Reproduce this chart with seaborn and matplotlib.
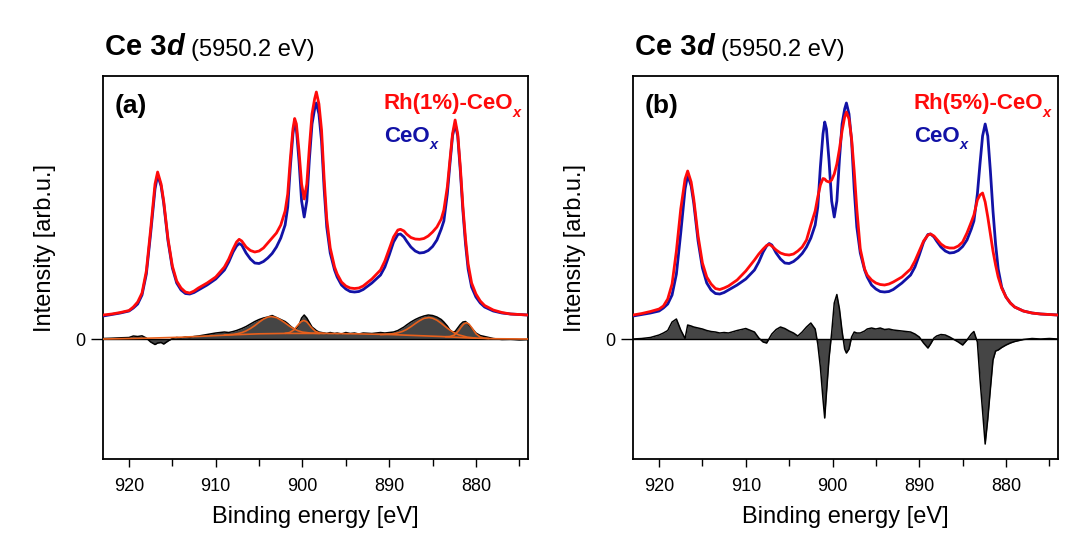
import matplotlib
matplotlib.use("Agg")
import matplotlib.pyplot as plt
import seaborn as sns

sns.set_theme(style="ticks")
plt.rcParams["font.family"] = ["Liberation Sans", "DejaVu Sans"]
plt.rcParams.update({
    "text.color": "black",
    "axes.labelcolor": "black",
    "xtick.color": "black",
    "ytick.color": "black",
    "axes.edgecolor": "black",
})

# ---------------------------------------------------------------- data
# binding energy grid [eV] shared by all spectra
energy = [
    923, 922, 921, 920, 919.5, 919, 918.5, 918, 917.5, 917,
    916.7, 916.3, 916, 915.5, 915, 914.5, 914, 913.5, 913, 912.5,
    912, 911, 910, 909, 908.5, 908, 907.6, 907.3, 907, 906.5,
    906, 905.5, 905, 904.5, 904, 903.5, 903, 902.5, 902, 901.7,
    901.4, 901.1, 900.9, 900.7, 900.4, 900.1, 899.8, 899.5, 899.2, 898.9,
    898.6, 898.4, 898.1, 897.8, 897.5, 897.2, 896.8, 896.3, 896, 895.5,
    895, 894.5, 894, 893.5, 893, 892, 891, 890.5, 890, 889.5,
    889, 888.7, 888.3, 888, 887.5, 887, 886.5, 886, 885.5, 885,
    884.5, 884, 883.7, 883.3, 883, 882.7, 882.4, 882.1, 881.8, 881.5,
    881.2, 880.9, 880.5, 880, 879.5, 879, 878, 877, 876, 875,
    874,
]

# Ce 3d intensity, bare CeOx reference
ceox = [
    23, 24.5, 26, 28, 31, 35, 44, 65, 106, 150,
    164, 153, 136, 98, 71, 56, 49, 45.5, 45, 46.5,
    49, 54, 60, 69, 77, 87, 93, 95.5, 94, 86,
    80, 76, 75.5, 77.5, 81, 85.5, 92, 101, 114, 132,
    172, 205, 217, 210, 178, 138, 122, 138, 180, 215,
    230, 236, 225, 198, 150, 112, 86, 69, 62, 54,
    50, 47.5, 47, 47.5, 49.5, 56, 64, 72, 84, 97,
    104.5, 105, 102, 98, 92, 88, 86, 86.5, 88.5, 92.5,
    99, 110, 118, 145, 175, 203, 215, 203, 168, 128,
    95, 70, 52, 42, 36, 32, 28, 26, 25, 24.5,
    24,
]

# Ce 3d intensity, Rh(1%)-CeOx
rh1 = [
    24, 25, 26.5, 28.5, 32, 37, 46, 68, 110, 155,
    167, 155, 138, 100, 73, 58, 51, 47, 46, 48,
    51, 56, 62, 72, 80, 90, 97, 99.7, 98, 92,
    88.5, 87, 88, 91, 96, 101, 106, 114, 128, 145,
    180, 210, 220.5, 215, 188, 155, 140, 155, 192, 225,
    240, 247, 235, 209, 160, 120, 91, 72, 65, 57,
    53, 51, 50.5, 51, 53, 60, 69, 78, 90, 102,
    109, 109.7, 108, 105, 101.5, 100, 99.7, 100.5, 103, 107,
    112, 120, 129, 152, 179, 205, 219, 205, 172, 132,
    100, 75, 56, 45, 38, 33.5, 29, 26.5, 25, 24.5,
    24,
]

# Ce 3d intensity, Rh(5%)-CeOx
rh5 = [
    24, 25.5, 27.5, 30, 33, 40, 55, 88, 130, 160,
    168, 157, 140, 103, 76, 62, 55, 50.5, 49.5, 51,
    53, 59, 68, 79, 85, 90, 93.5, 94.7, 93, 89,
    86, 84.5, 84, 85, 88, 92, 99, 114, 128, 142,
    154, 160.5, 160, 158, 157, 159, 165, 175, 190, 208,
    222, 227, 220, 200, 168, 130, 90, 70, 64, 59,
    56, 54.5, 54, 55, 57, 62, 70, 78, 88, 98,
    104, 105, 103, 100, 95, 92, 91, 91, 93, 97,
    106, 117, 124, 139, 144, 146, 137, 122, 105, 88,
    74, 62, 51, 42, 36, 32, 28, 26, 25, 24.5,
    24,
]

# difference spectra (Rh-doped minus CeOx)
diff_rh1 = [
    0.5, 0.8, 1.2, 1.5, 3, 2.5, 3.2, 1, -3, -5.5,
    -4, -3.5, -5, -2, 0.5, 1.5, 1, 2, 1.5, 2.5,
    3, 4.5, 6, 7, 6.5, 7.5, 8.5, 9.5, 10.5, 12.5,
    15, 17.5, 19.5, 21, 22, 23.5, 21.5, 19.5, 17.5, 15.5,
    13, 11, 10, 10.5, 14, 21, 24, 21, 16.5, 12,
    10, 8.5, 7, 6.5, 6, 5.5, 6.5, 5.5, 6, 5,
    6.5, 5.5, 6, 5, 6, 5.5, 6.5, 6, 6.5, 7,
    8.5, 10, 12, 14, 17, 19.5, 21.5, 23, 24, 23.5,
    22, 19.5, 17, 13, 9, 7, 7.5, 11, 14.5, 17,
    17.5, 15, 11, 6, 3.5, 2.5, 0.5, -0.5, -0.3, -0.8,
    -0.5,
]

diff_rh5 = [
    0, 0.5, 1.5, 4, 6, 8.5, 17, 20, 9, 0.5,
    14, 13, 12, 11, 10, 8.5, 7.5, 7, 6, 6.5,
    6, 8.5, 10.5, 7, 1, -3, -4, 0.5, 5, 9.5,
    12, 10.5, 8, 6, 3, 7, 12, 16, 10, -5,
    -28, -60, -79, -54, -19, 6, 36, 44.5, 30, 8,
    -10, -14, -10, 2, 7, 6, 6, 8, 10, 11,
    10, 11, 9.5, 10, 9, 8, 7, 5, 2, -4,
    -9, -5, 1, 3, 4.5, 4, 2, -0.5, -3, -6,
    -1, 5, 7.5, -3, -40, -72, -105, -80, -50, -21,
    -12, -11, -8.5, -6, -4, -2.5, -0.5, 0.5, 0, 0.5,
    0,
]

# peak fit of the Rh(1%) difference spectrum: background and four components
fit_bg_e = [923, 918, 914, 911, 908, 905, 902, 898, 894, 890, 887, 884, 881, 878, 874]
fit_bg_v = [0, 0.8, 1.8, 3, 4.2, 5.2, 5.6, 5.6, 5.2, 4.5, 3.5, 2.5, 1.2, 0.3, 0]

fit1_e = [909, 908, 907.5, 907, 906.5, 906, 905.5, 905, 904.5, 904,
          903.6, 903, 902.5, 902, 901.5, 901, 900.5, 900, 899, 898]
fit1_v = [4.1, 4.6, 5.3, 6.4, 8.1, 10.5, 13.4, 16.8, 19.9, 21.9,
          22.5, 21.4, 19.0, 16.1, 12.9, 10.2, 8.2, 6.9, 5.9, 5.6]

fit2_e = [902, 901.5, 901, 900.5, 900.2, 899.85, 899.5, 899.2, 899, 898.5, 898, 897.5]
fit2_v = [5.7, 6.4, 9.0, 14.1, 17.1, 18.6, 17.1, 14.1, 11.8, 7.6, 6.0, 5.65]

fit3_e = [891, 890, 889.5, 889, 888.5, 888, 887.5, 887, 886.5, 886,
          885.4, 885, 884.5, 884, 883.5, 883, 882.5, 882, 881, 880]
fit3_v = [4.4, 5.0, 5.3, 6.2, 7.5, 9.5, 12.3, 15.4, 18.3, 20.6,
          21.5, 20.8, 18.8, 15.7, 12.2, 8.9, 6.2, 4.2, 1.85, 0.9]

fit4_e = [883.5, 883, 882.5, 882, 881.7, 881.4, 881.1, 880.8, 880.5, 880, 879.5, 879, 878.5]
fit4_v = [2.3, 2.5, 3.9, 8.3, 12.0, 15.1, 16.3, 14.9, 11.5, 5.3, 1.9, 0.8, 0.5]

x_ticks = [920, 910, 900, 890, 880]
x_minor = [915, 905, 895, 885, 875]

# ---------------------------------------------------------------- style
RED = "#ff0a0a"
BLUE = "#1212a6"
GRAY = "#454545"
ORANGE = "#e8601c"

fig = plt.figure(figsize=(10.92, 5.33), dpi=100)
fig.patch.set_facecolor("white")
ax_a = fig.add_axes([0.0943, 0.1388, 0.3892, 0.7186])
ax_b = fig.add_axes([0.5797, 0.1388, 0.3892, 0.7186])


def chain_text(ax, x, y, pieces):
    """Write consecutive text pieces left to right, sharing one baseline."""
    prev = None
    for text, kw, dy in pieces:
        kw = dict(kw)
        if prev is None:
            prev = ax.text(x, y, text, transform=ax.transAxes,
                           ha="left", va="baseline", **kw)
        else:
            prev = ax.annotate(text, xy=(1, 0), xycoords=prev,
                               xytext=(kw.pop("dx", 0), dy),
                               textcoords="offset points",
                               ha="left", va="bottom", **kw)
    return prev


def draw_panel(ax, sample, sample_label, diff, tag, with_fit):
    ax.fill_between(energy, diff, 0, color=GRAY, lw=0, zorder=1,
                    interpolate=True)
    sns.lineplot(x=energy, y=diff, ax=ax, color="black", lw=1.1, zorder=2)
    ax.axhline(0, color="black", lw=1.0, zorder=2)

    if with_fit:
        sns.lineplot(x=fit_bg_e, y=fit_bg_v, ax=ax, color=ORANGE, lw=1.2, zorder=3)
        for fe, fv in [(fit1_e, fit1_v), (fit2_e, fit2_v),
                       (fit3_e, fit3_v), (fit4_e, fit4_v)]:
            sns.lineplot(x=fe, y=fv, ax=ax, color=ORANGE, lw=1.2, zorder=3)

    sns.lineplot(x=energy, y=ceox, ax=ax, color=BLUE, lw=2.0, zorder=4)
    sns.lineplot(x=energy, y=sample, ax=ax, color=RED, lw=2.0, zorder=5)

    ax.set_xlim(923, 874)
    ax.set_ylim(-120, 263)
    ax.set_xticks(x_ticks)
    ax.set_xticks(x_minor, minor=True)
    ax.set_yticks([0])
    ax.set_yticklabels(["0"])
    ax.tick_params(axis="x", which="major", direction="out", length=5.5,
                   width=1.0, pad=8, labelsize=13, colors="black")
    ax.tick_params(axis="x", which="minor", direction="out", length=5,
                   width=1.0, colors="black")
    ax.tick_params(axis="y", direction="out", length=8.5, width=1.0, pad=4,
                   labelsize=13, colors="black")
    for sp in ax.spines.values():
        sp.set_visible(True)
        sp.set_color("black")
        sp.set_linewidth(1.3)

    ax.set_xlabel("Binding energy [eV]", fontsize=17, color="black")
    ax.xaxis.set_label_coords(0.5, -0.151)
    ax.xaxis.label.set_va("center")
    ax.set_ylabel("Intensity [arb.u.]", fontsize=17, color="black")
    ax.yaxis.set_label_coords(-0.136, 0.55)
    ax.yaxis.label.set_va("center")

    # panel heading
    chain_text(ax, 0.005, 1.055, [
        ("Ce 3", dict(fontsize=21, fontweight="bold", color="black"), 0),
        ("d", dict(fontsize=21, fontweight="bold", fontstyle="italic",
                   color="black"), 0),
        ("(5950.2 eV)", dict(fontsize=17, color="black", dx=5), 0),
    ])

    ax.text(0.028, 0.922, tag, transform=ax.transAxes, ha="left",
            va="center", fontsize=19, fontweight="bold", color="black")

    # series labels
    chain_text(ax, 0.659, 0.914, [
        (sample_label, dict(fontsize=16, fontweight="bold", color=RED), 0),
        ("x", dict(fontsize=10.5, fontweight="bold", fontstyle="italic",
                   color=RED), -4),
    ])
    chain_text(ax, 0.661, 0.828, [
        ("CeO", dict(fontsize=16, fontweight="bold", color=BLUE), 0),
        ("x", dict(fontsize=10.5, fontweight="bold", fontstyle="italic",
                   color=BLUE), -4),
    ])


draw_panel(ax_a, rh1, "Rh(1%)-CeO", diff_rh1, "(a)", True)
draw_panel(ax_b, rh5, "Rh(5%)-CeO", diff_rh5, "(b)", False)

fig.savefig("out.png", dpi=100, facecolor="white")
